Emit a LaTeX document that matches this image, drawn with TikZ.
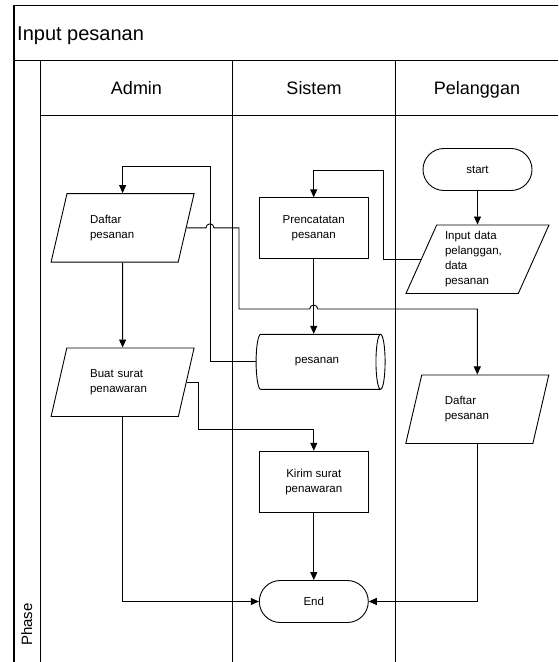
\documentclass[tikz,border=0pt]{standalone}
\usepackage{fontspec}
\setmainfont{Liberation Sans}
\usetikzlibrary{shapes.geometric,arrows.meta,calc}

\tikzset{
  small/.style={
    font=\fontsize{11.5}{15}\selectfont
  },
  proc/.style={
    small,
    draw,
    line width=0.9pt,
    minimum width=109pt,
    minimum height=61pt,
    align=center
  },
  io/.style={
    small,
    draw,
    line width=0.9pt,
    trapezium,
    trapezium left angle=63.8,
    trapezium right angle=116.2,
    trapezium stretches body,
    minimum width=143pt,
    minimum height=68.5pt,
    text width=65pt,
    inner xsep=0pt,
    align=left
  },
  term/.style={
    small,
    draw,
    line width=0.9pt,
    rounded corners=21pt,
    minimum width=109pt,
    minimum height=42pt
  },
  store/.style={
    small,
    draw,
    line width=0.9pt,
    cylinder,
    shape border rotate=0,
    aspect=0.6,
    minimum width=55pt,
    minimum height=129pt
  },
  arr/.style={
    line width=0.9pt,
    -{Triangle[length=8pt,width=7pt]}
  },
  lane/.style={
    line width=1.2pt
  }
}

\begin{document}
\begin{tikzpicture}[x=1pt, y=-1pt]
  \useasboundingbox (0,0) rectangle (558,662);

  \draw[lane] (14,662) -- (14,5.7) -- (558,5.7);
  \draw[lane] (14,60.7) -- (558,60.7);
  \draw[line width=0.9pt] (40.7,115.7) -- (558,115.7);
  \foreach \x in {40.7, 232.3, 395.7}
    \draw[lane] (\x,60.7) -- (\x,662);

  \node[anchor=base west, inner sep=0pt, font=\fontsize{20}{24}\selectfont] (title) at (17,40) {Input pesanan};
  \node[anchor=base, inner sep=0pt, font=\fontsize{18}{22}\selectfont] (admin) at (136.5,94) {Admin};
  \node[anchor=base, inner sep=0pt, font=\fontsize{18}{22}\selectfont] (sistem) at (314,94) {Sistem};
  \node[anchor=base, inner sep=0pt, font=\fontsize{18}{22}\selectfont] (pelanggan) at (477,94) {Pelanggan};
  \node[rotate=90, inner sep=0pt, font=\fontsize{15}{18}\selectfont] (phase) at (26.7,624.7) {Phase};

  \node[io] (daftarA) at (122.6,227.8) {Daftar\\pesanan};
  \node[io] (buat) at (122.6,382.2) {Buat surat\\penawaran};
  \node[proc] (prenc) at (313.7,228.3) {Prencatatan\\pesanan};
  \node[store] (pesanan) at (317,361.8) {pesanan};
  \node[proc] (kirim) at (313.8,481.7) {Kirim surat\\penawaran};
  \node[term] (end) at (313.8,601.5) {End};
  \node[term] (start) at (477.5,169.5) {start};
  \node[io] (inputD) at (477.5,259.2) {Input data\\pelanggan,\\data\\pesanan};
  \node[io] (daftarP) at (477.3,409.2) {Daftar\\pesanan};

  \coordinate (loopA) at (210,166);
  \coordinate (turnA) at (239,309);
  \coordinate (loopB) at (383.3,170.7);
  \coordinate (turnB) at (198.3,429.3);

  \draw[arr] (pesanan.west) -| (loopA) -| (daftarA.north);
  \draw[arr] (daftarA.east) -- ($(loopA |- daftarA.east)+(-4,0)$) arc[start angle=180, end angle=0, radius=4pt]
    -- (turnA |- daftarA.east) -- (turnA) -- ($(prenc.south |- turnA)+(-4,0)$) arc[start angle=180, end angle=0, radius=4pt]
    -| (daftarP.north);
  \draw[arr] (start.south) -- (inputD.north);
  \draw[arr] (inputD.west) -| (loopB) -| (prenc.north);
  \draw[arr] (prenc.south) -- (prenc.south |- pesanan.north);
  \draw[arr] (daftarA.south) -- (buat.north);
  \draw[arr] (buat.east) -| (turnB) -| (kirim.north);
  \draw[arr] (kirim.south) -- (end.north);
  \draw[arr] (buat.south) |- (end.west);
  \draw[arr] (daftarP.south) |- (end.east);
\end{tikzpicture}
\end{document}
